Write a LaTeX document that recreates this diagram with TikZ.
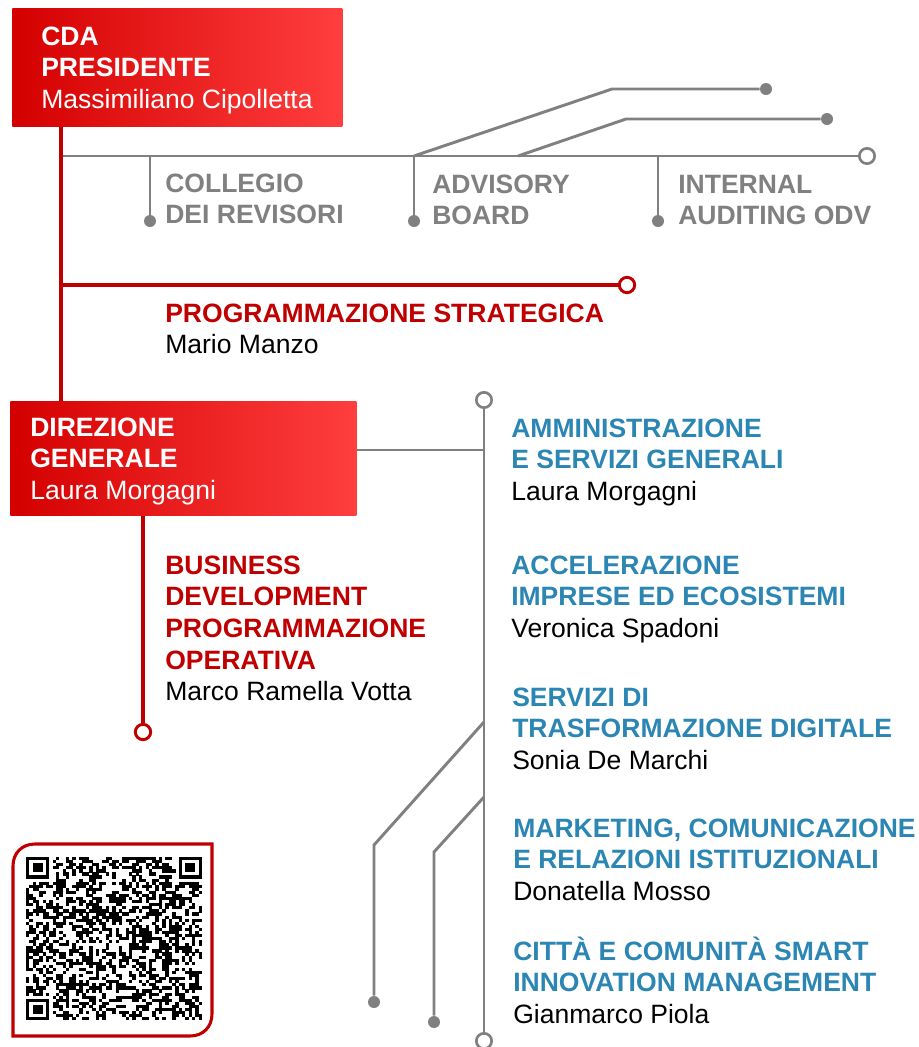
\documentclass[tikz,border=0pt]{standalone}
\usepackage{fontspec}
\setmainfont{Liberation Sans}
\definecolor{redA}{RGB}{212,0,0}
\definecolor{redB}{RGB}{255,62,62}
\definecolor{redL}{RGB}{192,0,0}
\definecolor{grayL}{RGB}{128,128,128}
\definecolor{blueT}{RGB}{44,134,180}
\begin{document}
\begin{tikzpicture}[x=0.75pt,y=-0.75pt,
  redline/.style={draw=redL,line width=2.5pt},
  grayline/.style={draw=grayL,line width=2.2pt},
  gdot/.style={circle,fill=grayL,inner sep=0,minimum size=9pt},
  gring/.style={circle,draw=grayL,fill=white,line width=2pt,inner sep=0,minimum size=11.5pt},
  rring/.style={circle,draw=redL,fill=white,line width=2.2pt,inner sep=0,minimum size=11.5pt},
  box/.style={rectangle,anchor=north west,inner sep=0,left color=redA,right color=redB,draw=none},
  txt/.style={anchor=base west,inner sep=0,font=\fontsize{19.9}{23.8}\selectfont},
  qrframe/.style={draw=redL,line width=2.3pt}
]
\useasboundingbox (0,0) rectangle (919,1047);

% boxes
\node[box,minimum width=247.5pt,minimum height=88.5pt] (cda) at (12,8) {};
\node[box,minimum width=259.5pt,minimum height=85.5pt] (dg) at (10,401) {};

% coordinates
\coordinate (j1) at (61,156);
\coordinate (j2) at (61,285);
\coordinate (b1) at (150,156);
\coordinate (b2) at (414,156);
\coordinate (b3) at (658,156);
\coordinate (b4) at (518,156);
\coordinate (k1) at (612,89);
\coordinate (k2) at (626,119);
\coordinate (j3) at (484,450);
\coordinate (b5) at (484,722);
\coordinate (b6) at (484,797);
\coordinate (k3) at (374,845);
\coordinate (k4) at (434,852);

% end markers
\node[gring] (gr1) at (867,156) {};
\node[gdot] (d1) at (150,221) {};
\node[gdot] (d2) at (414,221) {};
\node[gdot] (d3) at (658,221) {};
\node[gdot] (d4) at (766,89) {};
\node[gdot] (d5) at (827,119) {};
\node[rring] (r1) at (627,285) {};
\node[rring] (r2) at (143,732) {};
\node[gring] (gt) at (484,400) {};
\node[gring] (gb) at (484,1041) {};
\node[gdot] (d6) at (374,1002) {};
\node[gdot] (d7) at (434,1022) {};

% gray connectors
\draw[grayline] (j1) -- (gr1);
\draw[grayline] (b1) -- (d1);
\draw[grayline] (b2) -- (d2);
\draw[grayline] (b3) -- (d3);
\draw[grayline] (b2) -- (k1) -- (d4);
\draw[grayline] (b4) -- (k2) -- (d5);
\draw[grayline] (dg.east |- j3) -- (j3);
\draw[grayline] (gt) -- (gb);
\draw[grayline] (b5) -- (k3) -- (d6);
\draw[grayline] (b6) -- (k4) -- (d7);

% red connectors
\draw[redline] (cda.south -| j1) -- (dg.north -| j1);
\draw[redline] (j2) -- (r1);
\draw[redline] (dg.south -| r2) -- (r2);

% texts
\node[txt,text=white] (cdat) at (41,45) {\vtop{\hbox{\bfseries CDA}\hbox{\bfseries PRESIDENTE}\hbox{Massimiliano Cipolletta}}};
\node[txt,text=white] (dgt) at (30,436) {\vtop{\hbox{\bfseries DIREZIONE}\hbox{\bfseries GENERALE}\hbox{Laura Morgagni}}};

\node[txt,text=grayL] (coll) at (165,192) {\vtop{\hbox{\bfseries COLLEGIO}\hbox{\bfseries DEI REVISORI}}};
\node[txt,text=grayL] (adv) at (432,193) {\vtop{\hbox{\bfseries ADVISORY}\hbox{\bfseries BOARD}}};
\node[txt,text=grayL] (intr) at (678,193) {\vtop{\hbox{\bfseries INTERNAL}\hbox{\bfseries AUDITING ODV}}};

\node[txt] (ps) at (165,322) {\vtop{\hbox{\bfseries\color{redL}PROGRAMMAZIONE STRATEGICA}\hbox{Mario Manzo}}};
\node[txt] (bus) at (165,574) {\vtop{\hbox{\bfseries\color{redL}BUSINESS}\hbox{\bfseries\color{redL}DEVELOPMENT}\hbox{\bfseries\color{redL}PROGRAMMAZIONE}\hbox{\bfseries\color{redL}OPERATIVA}\hbox{Marco Ramella Votta}}};

\node[txt] (amm) at (511,437) {\vtop{\hbox{\bfseries\color{blueT}AMMINISTRAZIONE}\hbox{\bfseries\color{blueT}E SERVIZI GENERALI}\hbox{Laura Morgagni}}};
\node[txt] (acc) at (511,574) {\vtop{\hbox{\bfseries\color{blueT}ACCELERAZIONE}\hbox{\bfseries\color{blueT}IMPRESE ED ECOSISTEMI}\hbox{Veronica Spadoni}}};
\node[txt] (serv) at (512,706) {\vtop{\hbox{\bfseries\color{blueT}SERVIZI DI}\hbox{\bfseries\color{blueT}TRASFORMAZIONE DIGITALE}\hbox{Sonia De Marchi}}};
\node[txt] (mark) at (513,837) {\vtop{\hbox{\bfseries\color{blueT}MARKETING, COMUNICAZIONE}\hbox{\bfseries\color{blueT}E RELAZIONI ISTITUZIONALI}\hbox{Donatella Mosso}}};
\node[txt] (citta) at (513,960) {\vtop{\hbox{\bfseries\color{blueT}CITTÀ E COMUNITÀ SMART}\hbox{\bfseries\color{blueT}INNOVATION MANAGEMENT}\hbox{Gianmarco Piola}}};

% QR frame
\draw[qrframe] (13,1036) -- (13,866) .. controls (13,853) and (22,844) .. (35,844) -- (212,844) -- (212,1014) .. controls (212,1027) and (203,1036) .. (190,1036) -- cycle;

% QR modules (pattern)
\def\qx{26}\def\qy{857}\def\mx{3.32}\def\my{3.08}
\pgfmathsetseed{2024}
\foreach \i in {0,...,52}{
  \foreach \j in {0,...,52}{
    \pgfmathtruncatemacro{\sk}{((\i<8)&&(\j<8)) || ((\i>44)&&(\j<8)) || ((\i<8)&&(\j>44))}
    \pgfmathrandominteger{\rr}{0}{1}
    \ifnum\sk=0 \ifnum\rr=1
      \fill[black] ({\qx+\i*\mx},{\qy+\j*\my}) rectangle ++(3.42,3.18);
    \fi\fi
  }
}
% finder patterns
\foreach \fx/\fy in {0/0,46/0,0/46}{
  \fill[black] ({\qx+\fx*\mx},{\qy+\fy*\my}) rectangle ++({7*\mx},{7*\my});
  \fill[white] ({\qx+(\fx+1)*\mx},{\qy+(\fy+1)*\my}) rectangle ++({5*\mx},{5*\my});
  \fill[black] ({\qx+(\fx+2)*\mx},{\qy+(\fy+2)*\my}) rectangle ++({3*\mx},{3*\my});
}
\end{tikzpicture}
\end{document}
